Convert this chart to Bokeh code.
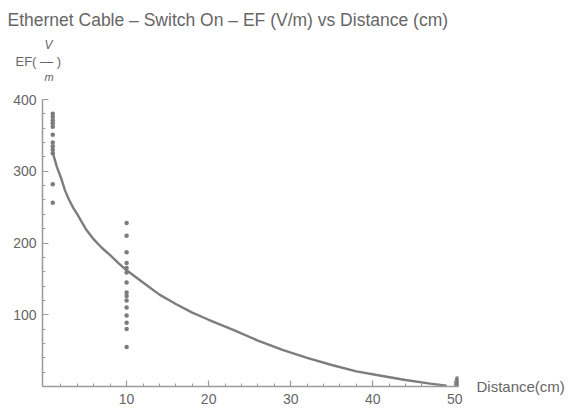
from bokeh.plotting import figure
from bokeh.models import FixedTicker, Range1d, Title, LinearAxis
from bokeh.embed import file_html
from bokeh.resources import INLINE

# ---- data ----
dist_near = [1] * 12
ef_near = [380, 376, 371, 367, 362, 351, 340, 335, 330, 325, 282, 256]
dist_mid = [10] * 15
ef_mid = [228, 210, 187, 172, 165, 159, 145, 131, 126, 120, 110, 99, 89, 80, 55]
dist_far = [50.3] * 5
ef_far = [11, 8, 5, 3, 1]

fit_x = [1, 1.5, 2, 2.5, 3, 3.5, 4, 5, 6, 7, 8, 9, 10, 12, 14, 16, 18, 20,
         23, 26, 29, 32, 35, 38, 41, 44, 47, 49]
fit_y = [326, 306, 291, 273, 260, 249, 240, 220, 205, 193, 183, 172, 162, 145,
         128, 115, 103, 93, 79, 64, 51, 40, 30, 21, 15, 9, 4, 1]

x_major = [10, 20, 30, 40, 50]
x_minor = [2, 4, 6, 8, 12, 14, 16, 18, 22, 24, 26, 28, 32, 34, 36, 38, 42, 44, 46, 48]
y_major = [100, 200, 300, 400]
y_minor = [20, 40, 60, 80, 120, 140, 160, 180, 220, 240, 260, 280, 320, 340, 360, 380]

title_text = "Ethernet Cable \u2013 Switch On \u2013 EF (V/m) vs Distance (cm)"
x_label_text = "Distance(cm)"
y_label_num = "V"
y_label_row = "EF(\u00a0\u2014\u00a0)"
y_label_den = "m"

# ---- layout ----
W, H = 572, 410
ML, MR, MT, MB = 42, 114, 98, 24
X0, X1 = -0.25, 50.45
Y0, Y1 = 0, 400

FONT = "Liberation Sans"
AX = "#9a9a9a"
TXT = "#666666"

p = figure(width=W, height=H, x_range=Range1d(X0, X1), y_range=Range1d(Y0, Y1),
           output_backend="svg", toolbar_location=None,
           min_border_left=ML, min_border_right=MR, min_border_top=MT, min_border_bottom=MB)
p.grid.visible = False
p.outline_line_color = None
p.background_fill_color = "white"
p.border_fill_color = "white"

p.xaxis.ticker = FixedTicker(ticks=x_major, minor_ticks=x_minor)
p.yaxis.ticker = FixedTicker(ticks=y_major, minor_ticks=y_minor)
for ax in (p.xaxis, p.yaxis):
    ax.axis_line_color = AX
    ax.axis_line_width = 1.5
    ax.major_tick_line_color = AX
    ax.minor_tick_line_color = AX
    ax.major_tick_line_width = 1.2
    ax.minor_tick_line_width = 1
    ax.major_tick_in = 6
    ax.major_tick_out = 0
    ax.minor_tick_in = 3
    ax.minor_tick_out = 0
    ax.major_label_text_color = TXT
    ax.major_label_text_font = FONT
    ax.major_label_text_font_size = "14px"
p.xaxis.major_label_standoff = 7
p.yaxis.major_label_standoff = 6

# "Distance(cm)" written at the level of the x axis, right of the frame
rax = LinearAxis(ticker=FixedTicker(ticks=[0], minor_ticks=[]),
                 major_label_overrides={0: x_label_text},
                 axis_line_color=None, major_tick_line_color=None,
                 minor_tick_line_color=None, major_tick_in=0, major_tick_out=0,
                 major_label_standoff=18, major_label_text_font=FONT,
                 major_label_text_font_size="15px", major_label_text_color=TXT)
p.add_layout(rax, "right")

# fitted curve and measurements
p.line(fit_x, fit_y, line_color="#7d7d7d", line_width=2.4)
for xs, ys in ((dist_near, ef_near), (dist_mid, ef_mid), (dist_far, ef_far)):
    p.scatter(xs, ys, size=4.5, fill_color="#7c7c7c", line_color=None)

# texts above the frame (first added is closest to the frame)
def title(text, size, offset, standoff, valign="top", style="normal"):
    p.add_layout(Title(text=text, align="left", offset=offset, standoff=standoff,
                       vertical_align=valign, text_font=FONT, text_font_size=size,
                       text_font_style=style, text_color=TXT), "above")

title(" ", "8px", 0, 4)
title(y_label_den, "11px", 2, 0, style="italic")
title(y_label_row, "13px", -27, 0)
title(y_label_num, "12px", 2, 0, style="italic")
title(title_text, "17.5px", -35, 15, valign="bottom")

html = file_html(p, INLINE)
open("out.html", "w").write(html)
